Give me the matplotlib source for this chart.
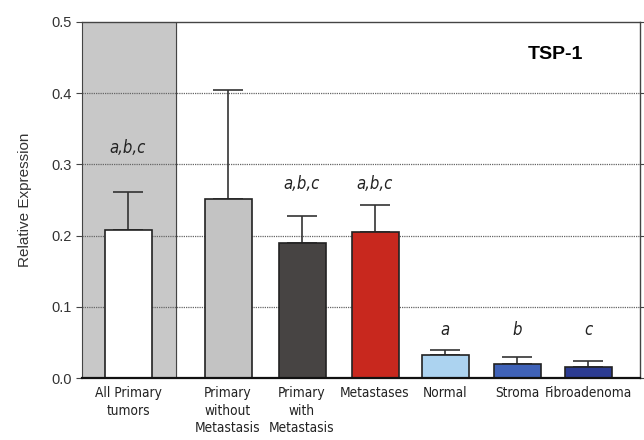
import matplotlib
matplotlib.use("Agg")
import matplotlib.pyplot as plt
from matplotlib.ticker import MultipleLocator

categories = ["All Primary\ntumors", "Primary\nwithout\nMetastasis", "Primary\nwith\nMetastasis",
              "Metastases", "Normal", "Stroma", "Fibroadenoma"]
values = [0.208, 0.251, 0.190, 0.205, 0.032, 0.020, 0.016]
errors = [0.053, 0.153, 0.038, 0.038, 0.008, 0.009, 0.008]
annotations = ["a,b,c", "", "a,b,c", "a,b,c", "a", "b", "c"]
colors = ["#ffffff", "#c3c3c3", "#474443", "#c8281e", "#acd3f0", "#3f62b8", "#2b3b92"]

# layout (pixel-like x units)
x_pos = [128, 228, 302, 375, 445, 517, 588]
annot_y = [0.323, 0, 0.272, 0.272, 0.068, 0.068, 0.068]
bar_w = 47

fig = plt.figure(figsize=(6.44, 4.40), dpi=100)
ax = fig.add_axes([82/644, 62/440, 558/644, 356/440])
ax.set_xlim(82, 640)
ax.set_ylim(0, 0.5)

ax.axvspan(82, 176, color="#c8c8c8", zorder=0)
ax.axvline(176, color="#444444", lw=0.8, zorder=1)
for yv in [0.1, 0.2, 0.3, 0.4]:
    ax.axhline(yv, color="#666666", lw=0.9, ls=(0, (1, 0.8)), zorder=1)

ax.bar(x_pos, values, width=bar_w, color=colors, edgecolor="#222222", linewidth=1.2, zorder=3)
ax.errorbar(x_pos, values, yerr=[[0]*len(values), errors], fmt="none", ecolor="#333333",
            elinewidth=1.2, capsize=11, capthick=1.2, zorder=2)

for x, ay, t in zip(x_pos, annot_y, annotations):
    if t:
        ax.text(x, ay, t, ha="center", va="center", fontsize=12, style="italic",
                color="#222222", family="DejaVu Sans", stretch="condensed")

ax.text(555, 0.455, "TSP-1", ha="center", va="center", fontsize=14, fontweight="bold",
        family=["Liberation Sans", "DejaVu Sans"])

ax.set_xticks(x_pos)
ax.set_xticklabels(categories, fontsize=9.8, va="top", linespacing=1.3,
                   family="DejaVu Sans", stretch="condensed", color="#222222")
ax.tick_params(axis="x", length=0, pad=6)
ax.yaxis.set_major_locator(MultipleLocator(0.1))
ax.set_yticklabels([f"{v:.1f}" for v in ax.get_yticks()], fontsize=10.5,
                   family=["Liberation Sans", "DejaVu Sans"], color="#333333")
ax.tick_params(axis="y", direction="out", length=4, right=True, color="#444444")
ax.tick_params(axis="y", which="both", labelright=False)
ax.set_ylabel("Relative Expression", fontsize=11, color="#333333",
              family=["Liberation Sans", "DejaVu Sans"], labelpad=14)

for s in ["top", "right"]:
    ax.spines[s].set_color("#444444")
    ax.spines[s].set_linewidth(1.0)
ax.spines["left"].set_color("#444444")
ax.spines["bottom"].set_color("#111111")
ax.spines["bottom"].set_linewidth(1.6)
ax.spines["bottom"].set_zorder(4)

fig.savefig("out.png", dpi=100)
